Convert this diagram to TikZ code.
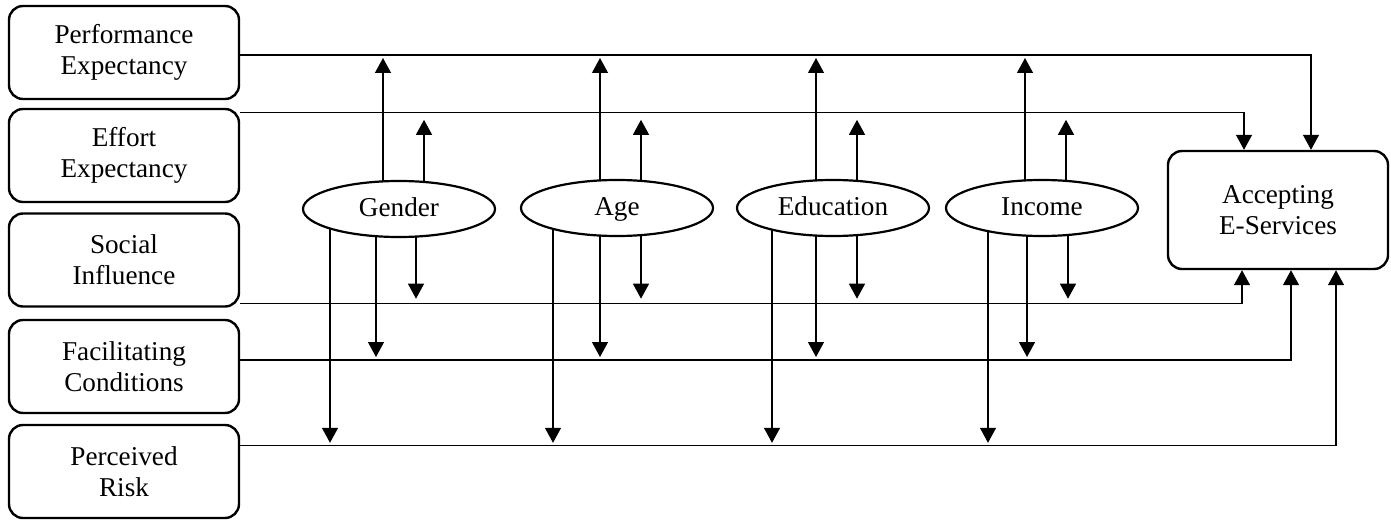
\documentclass[tikz,border=0pt]{standalone}
\usepackage{fontspec}
\setmainfont{Liberation Serif}
\usetikzlibrary{positioning, shapes.geometric, arrows.meta, calc}
\pgfdeclarelayer{back}
\pgfsetlayers{back,main}

\begin{document}
\begin{tikzpicture}[x=0.5pt, y=-0.5pt, font=\fontsize{13.6}{15.5}\selectfont, box/.style={draw, line width=1.2pt, rounded corners=7pt, align=center, minimum width=115pt, minimum height=46.5pt}, oval/.style={draw, ellipse, line width=1.1pt, fill=white, minimum width=96pt, minimum height=28pt, inner sep=0pt, text height=2ex, text depth=0.4ex}, arr/.style={-{Triangle[width=8pt,length=7.5pt]}, line width=0.65pt}]
\useasboundingbox (0,0) rectangle (1391,519);
\node[box] (pe) at (124,52.5) {Performance\\Expectancy};
\node[box] (ee) at (124,155.5) {Effort\\Expectancy};
\node[box] (si) at (124,260) {Social\\Influence};
\node[box] (fc) at (124,366.5) {Facilitating\\Conditions};
\node[box] (pr) at (124,471.5) {Perceived\\Risk};
\node[box, minimum width=110pt, minimum height=59pt] (acc) at (1278,210) {Accepting\\E-Services};
\node[oval] (gen) at (399,209) {Gender};
\node[oval] (age) at (617,208) {Age};
\node[oval] (edu) at (833,208) {Education};
\node[oval] (inc) at (1042,208) {Income};
% where the lines leave the boxes
\coordinate (peline) at ($(pe.east)+(0,2.5)$);
\coordinate (eeline) at ($(ee.north east)+(0,5)$);
\coordinate (siline) at ($(si.south east)+(0,-4)$);
\coordinate (fcline) at ($(fc.east)+(0,-6.5)$);
\coordinate (prline) at ($(pr.north east)+(0,22)$);
\draw[arr] (peline) -| ($(acc.north)+(33,0)$);
\draw[arr] (eeline) -| ($(acc.north)+(-34,0)$);
\draw[arr] (siline) -| ($(acc.south)+(-36,0)$);
\draw[arr] (fcline) -| ($(acc.south)+(13,0)$);
\draw[arr] (prline) -| ($(acc.south)+(58,0)$);
% moderators
\begin{pgfonlayer}{back}
\draw[arr] ($(gen.center)+(-16,0)$) -- ($(gen.center |- peline)+(-16,3)$);
\draw[arr] ($(gen.center)+(25,0)$) -- ($(gen.center |- eeline)+(25,7)$);
\draw[arr] ($(gen.center)+(17,0)$) -- ($(gen.center |- siline)+(17,-5)$);
\draw[arr] ($(gen.center)+(-23,0)$) -- ($(gen.center |- fcline)+(-23,-3)$);
\draw[arr] ($(gen.center)+(-69,0)$) -- ($(gen.center |- prline)+(-69,-3)$);
\draw[arr] ($(age.center)+(-17,0)$) -- ($(age.center |- peline)+(-17,3)$);
\draw[arr] ($(age.center)+(24,0)$) -- ($(age.center |- eeline)+(24,7)$);
\draw[arr] ($(age.center)+(24,0)$) -- ($(age.center |- siline)+(24,-5)$);
\draw[arr] ($(age.center)+(-17,0)$) -- ($(age.center |- fcline)+(-17,-3)$);
\draw[arr] ($(age.center)+(-64,0)$) -- ($(age.center |- prline)+(-64,-3)$);
\draw[arr] ($(edu.center)+(-17,0)$) -- ($(edu.center |- peline)+(-17,3)$);
\draw[arr] ($(edu.center)+(24,0)$) -- ($(edu.center |- eeline)+(24,7)$);
\draw[arr] ($(edu.center)+(24,0)$) -- ($(edu.center |- siline)+(24,-5)$);
\draw[arr] ($(edu.center)+(-17,0)$) -- ($(edu.center |- fcline)+(-17,-3)$);
\draw[arr] ($(edu.center)+(-61,0)$) -- ($(edu.center |- prline)+(-61,-3)$);
\draw[arr] ($(inc.center)+(-17,0)$) -- ($(inc.center |- peline)+(-17,3)$);
\draw[arr] ($(inc.center)+(24,0)$) -- ($(inc.center |- eeline)+(24,7)$);
\draw[arr] ($(inc.center)+(26,0)$) -- ($(inc.center |- siline)+(26,-5)$);
\draw[arr] ($(inc.center)+(-15,0)$) -- ($(inc.center |- fcline)+(-15,-3)$);
\draw[arr] ($(inc.center)+(-54,0)$) -- ($(inc.center |- prline)+(-54,-3)$);
\end{pgfonlayer}
\end{tikzpicture}
\end{document}
